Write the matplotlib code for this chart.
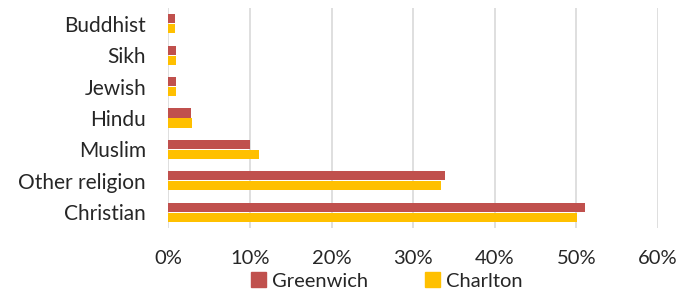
import matplotlib
matplotlib.use("Agg")
import matplotlib.pyplot as plt
import numpy as np
from matplotlib.patches import Patch

categories = ["Christian", "Other religion", "Muslim", "Hindu", "Jewish", "Sikh", "Buddhist"]
greenwich = [51.1, 33.9, 10.0, 2.8, 0.9, 0.9, 0.8]
charlton = [50.1, 33.4, 11.1, 2.9, 1.0, 1.0, 0.8]
xticks = [0, 10, 20, 30, 40, 50, 60]
xtick_labels = ["0%", "10%", "20%", "30%", "40%", "50%", "60%"]

plt.rcParams['font.family'] = ['Lato', 'DejaVu Sans']
plt.rcParams['font.weight'] = 'normal'

fig = plt.figure(figsize=(6.98, 2.90), dpi=100)
ax = fig.add_axes([168.3/698, 1-228/290, (657.9-168.3)/698, 220/290])

red = "#C0504D"
yellow = "#FFC000"
textc = "#262626"
y = np.arange(len(categories))
h = 0.29
off = 0.16
ax.barh(y + off, greenwich, height=h, color=red, zorder=3)
ax.barh(y - off, charlton, height=h, color=yellow, zorder=3)

ax.set_xlim(0, 60)
ax.set_ylim(-0.5, len(categories) - 0.5)
ax.set_xticks(xticks)
ax.set_xticklabels(xtick_labels)
ax.set_yticks(y)
ax.set_yticklabels(categories)
ax.grid(axis='x', color='#D9D9D9', linewidth=1.2, zorder=0)
ax.grid(axis='y', visible=False)
for s in ax.spines.values():
    s.set_visible(False)
ax.tick_params(axis='y', length=0, labelsize=15, colors=textc, pad=16)
ax.tick_params(axis='x', length=0, labelsize=14.5, colors=textc, pad=16)

handles = [Patch(color=red, label="Greenwich"), Patch(color=yellow, label="Charlton")]
fig.legend(handles=handles, loc='center', bbox_to_anchor=(387/698, 1-281/290), ncol=2,
           frameon=False, fontsize=14.5, handlelength=0.75, handleheight=0.75,
           handletextpad=0.3, columnspacing=2.8, borderpad=0, labelcolor=textc)

fig.savefig("out.png", dpi=100)
